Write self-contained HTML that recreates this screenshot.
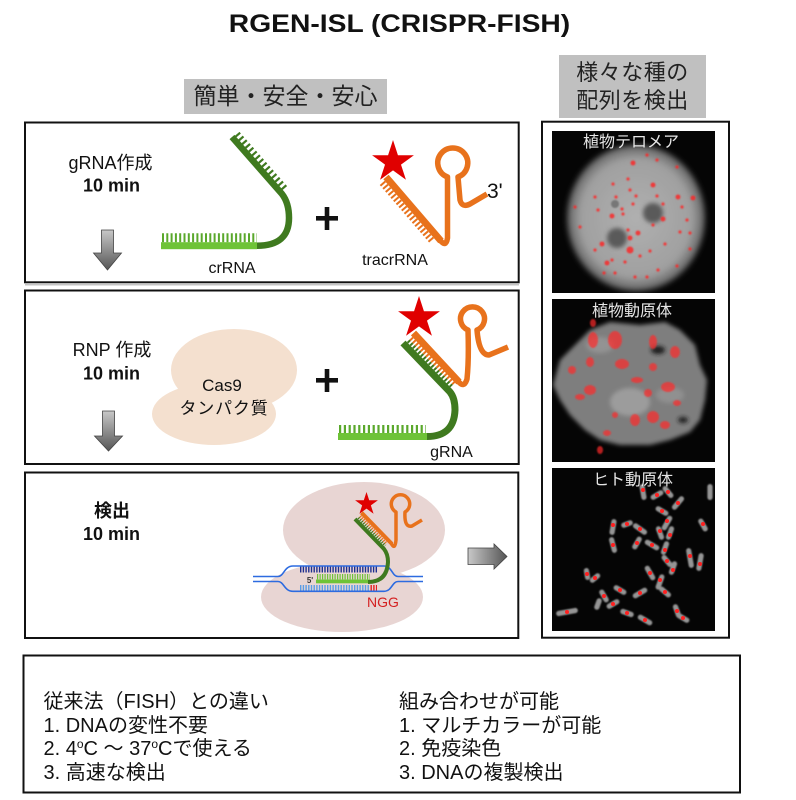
<!DOCTYPE html>
<html><head><meta charset="utf-8">
<style>
html,body{margin:0;padding:0;background:#fff;}
svg{display:block;}
text{font-family:"Liberation Sans","Noto Sans CJK JP",sans-serif;}
</style></head><body>
<svg width="796" height="800" viewBox="0 0 796 800" xmlns="http://www.w3.org/2000/svg">
<defs>
<linearGradient id="gv" x1="0" y1="0" x2="0" y2="1"><stop offset="0" stop-color="#c8c8c8"/><stop offset="1" stop-color="#555"/></linearGradient>
<linearGradient id="gh" x1="0" y1="0" x2="1" y2="0"><stop offset="0" stop-color="#c8c8c8"/><stop offset="1" stop-color="#555"/></linearGradient>
<radialGradient id="disk" cx="0.5" cy="0.5" r="0.5"><stop offset="0" stop-color="#b0b0b0"/><stop offset="0.8" stop-color="#a0a0a0"/><stop offset="1" stop-color="#606060"/></radialGradient>
<filter id="b2" x="-20%" y="-20%" width="140%" height="140%"><feGaussianBlur stdDeviation="2"/></filter>
<filter id="b3" x="-20%" y="-20%" width="140%" height="140%"><feGaussianBlur stdDeviation="3"/></filter>
<filter id="b1" x="-30%" y="-30%" width="160%" height="160%"><feGaussianBlur stdDeviation="0.7"/></filter>
<clipPath id="c1"><rect x="552" y="131" width="163" height="162"/></clipPath>
<clipPath id="c2"><rect x="552" y="299" width="163" height="163"/></clipPath>
<clipPath id="c3"><rect x="552" y="468" width="163" height="163"/></clipPath>
</defs>

<!-- Title -->
<text x="0" y="32" font-size="25" font-weight="bold" text-anchor="middle" fill="#111" transform="translate(399.5,0) scale(1.13,1)">RGEN-ISL (CRISPR-FISH)</text>

<!-- gray labels -->
<rect x="184" y="79" width="203" height="35" fill="#c0c0c0"/>
<text x="285.5" y="104" font-size="23" text-anchor="middle" fill="#222">簡単・安全・安心</text>
<rect x="559" y="55" width="147" height="63" fill="#c0c0c0"/>
<text x="632.5" y="80" font-size="22" text-anchor="middle" fill="#222" letter-spacing="0.5">様々な種の</text>
<text x="632.5" y="108" font-size="22" text-anchor="middle" fill="#222" letter-spacing="0.5">配列を検出</text>

<!-- Panel boxes -->
<rect x="25" y="122.5" width="493.7" height="159.8" fill="none" stroke="#111" stroke-width="2"/>
<line x1="25" y1="284.8" x2="519" y2="284.8" stroke="#c4c4c4" stroke-width="1.5"/>
<rect x="25" y="290.5" width="493.7" height="173.5" fill="none" stroke="#111" stroke-width="2"/>
<rect x="25" y="472.5" width="493.3" height="165.5" fill="none" stroke="#111" stroke-width="2"/>

<!-- Panel 1 text -->
<text x="110.5" y="169" font-size="18" text-anchor="middle" fill="#111">gRNA作成</text>
<text x="111.5" y="191.5" font-size="18" font-weight="bold" text-anchor="middle" fill="#111">10 min</text>
<polygon points="101.5,230 113.5,230 113.5,253 121.5,253 107.5,270 93.5,253 101.5,253" fill="url(#gv)" stroke="#444" stroke-width="0.8"/>

<!-- crRNA -->
<line x1="162" y1="237.8" x2="257" y2="237.8" stroke="#5aa82c" stroke-width="9" stroke-dasharray="2 2.3"/>
<rect x="161" y="242.2" width="96" height="7" fill="#6ec337"/>
<line x1="237.2" y1="133.8" x2="285.2" y2="188.5" stroke="#3f7a1f" stroke-width="6" stroke-dasharray="2.2 2.8"/>
<path d="M232 137 L282 194 Q289 203 289 218 Q289 245.7 257 245.7" fill="none" stroke="#3f7a1f" stroke-width="6.5"/>
<text x="232" y="273" font-size="16" text-anchor="middle" fill="#111">crRNA</text>

<!-- plus 1 -->
<rect x="316" y="216" width="22" height="4.6" fill="#111"/>
<rect x="324.7" y="207" width="4.6" height="23" fill="#111"/>

<!-- tracrRNA -->
<line x1="382.2" y1="182.9" x2="432.6" y2="241.6" stroke="#e8721c" stroke-width="6.5" stroke-dasharray="2 2.1"/>
<line x1="386" y1="177" x2="441" y2="241" stroke="#e8721c" stroke-width="7"/>
<path d="M440 240 Q446 248 447.5 238 L447.5 177 A15 15 0 1 1 458 177 L460 200 Q462 208 470 204 L487 194" fill="none" stroke="#e8721c" stroke-width="5.5" stroke-linejoin="round"/>
<polygon points="0,-1 0.2245,-0.309 0.951,-0.309 0.363,0.118 0.588,0.809 0,0.382 -0.588,0.809 -0.363,0.118 -0.951,-0.309 -0.2245,-0.309" transform="translate(393,162) scale(22)" fill="#e00000"/>
<text x="487" y="198" font-size="21" fill="#111">3'</text>
<text x="395" y="265" font-size="16" text-anchor="middle" fill="#111">tracrRNA</text>

<!-- Panel 2 text -->
<text x="112" y="356" font-size="18" text-anchor="middle" fill="#111">RNP 作成</text>
<text x="111.5" y="379.5" font-size="18" font-weight="bold" text-anchor="middle" fill="#111">10 min</text>
<polygon points="102.5,411 114.5,411 114.5,436 122.5,436 108.5,451 94.5,436 102.5,436" fill="url(#gv)" stroke="#444" stroke-width="0.8"/>

<!-- Cas9 blob -->
<ellipse cx="234" cy="370" rx="63" ry="41" fill="#f4e0cf"/>
<ellipse cx="214" cy="414" rx="62" ry="31" fill="#f4e0cf"/>
<text x="222" y="391" font-size="17" text-anchor="middle" fill="#111">Cas9</text>
<text x="224" y="414" font-size="17" text-anchor="middle" fill="#111" letter-spacing="0.8">タンパク質</text>

<!-- plus 2 -->
<rect x="316" y="378" width="22" height="4.6" fill="#111"/>
<rect x="324.7" y="369" width="4.6" height="23" fill="#111"/>

<!-- gRNA complex -->
<line x1="339" y1="429" x2="426" y2="429" stroke="#5aa82c" stroke-width="8" stroke-dasharray="2.2 2.6"/>
<rect x="338" y="433" width="89" height="7" fill="#6ec337"/>
<line x1="408.2" y1="340.8" x2="452" y2="386.5" stroke="#3f7a1f" stroke-width="3.6" stroke-dasharray="2 1.8"/>
<line x1="410.9" y1="338.2" x2="454.7" y2="383.9" stroke="#e8721c" stroke-width="4" stroke-dasharray="2 1.8"/>
<path d="M403 343 L450 392 Q455 398 455 410 Q454 436.5 427 436.5" fill="none" stroke="#3f7a1f" stroke-width="7"/>
<line x1="413.5" y1="333" x2="459" y2="382" stroke="#e8721c" stroke-width="7"/>
<path d="M458 381 Q464 389 467 379 Q469 360 468 330 A12 12 0 1 1 477 330 Q479 355 489 355 L508 347" fill="none" stroke="#e8721c" stroke-width="5.5" stroke-linejoin="round"/>
<polygon points="0,-1 0.2245,-0.309 0.951,-0.309 0.363,0.118 0.588,0.809 0,0.382 -0.588,0.809 -0.363,0.118 -0.951,-0.309 -0.2245,-0.309" transform="translate(419,318) scale(22)" fill="#e00000"/>
<text x="451.5" y="457" font-size="16" text-anchor="middle" fill="#111">gRNA</text>

<!-- Panel 3 text -->
<text x="112" y="517" font-size="18" font-weight="bold" text-anchor="middle" fill="#111">検出</text>
<text x="111.5" y="540" font-size="18" font-weight="bold" text-anchor="middle" fill="#111">10 min</text>

<!-- pink blob -->
<ellipse cx="364" cy="530" rx="81" ry="48" fill="#e8d5d3"/>
<ellipse cx="342" cy="597" rx="81" ry="35" fill="#e8d5d3"/>

<!-- DNA -->
<line x1="300" y1="569.3" x2="377" y2="569.3" stroke="#1f2f8f" stroke-width="6.5" stroke-dasharray="1.4 1.3"/>
<line x1="300" y1="588.3" x2="370" y2="588.3" stroke="#5a9de6" stroke-width="6.5" stroke-dasharray="1.4 1.3"/>
<line x1="370.5" y1="588.3" x2="377" y2="588.3" stroke="#e52020" stroke-width="6.5" stroke-dasharray="1.4 1.3"/>
<path d="M253 576.5 L278 576.5 C284 576.5 284 566 293 566 L384 566 C392 566 392 576.5 398 576.5 L423 576.5" fill="none" stroke="#2d6be0" stroke-width="1.6"/>
<path d="M253 581.5 L278 581.5 C284 581.5 284 591.3 293 591.3 L384 591.3 C392 591.3 392 581.5 398 581.5 L423 581.5" fill="none" stroke="#2d6be0" stroke-width="1.6"/>
<line x1="317" y1="576.7" x2="370" y2="576.7" stroke="#6ec337" stroke-width="5.3" stroke-dasharray="1.2 1.3"/>
<rect x="316" y="579.5" width="54" height="3.8" fill="#6ec337"/>
<text x="310" y="583" font-size="8" font-weight="bold" text-anchor="middle" fill="#333">5'</text>
<line x1="358.4" y1="517.8" x2="385.3" y2="545.6" stroke="#3f7a1f" stroke-width="2.5" stroke-dasharray="1.2 1.2"/>
<line x1="360.2" y1="516.1" x2="387" y2="543.8" stroke="#e8721c" stroke-width="2.5" stroke-dasharray="1.2 1.2"/>
<path d="M355 519 L384 549 Q388 554 388 562 Q387 582 368 582" fill="none" stroke="#3f7a1f" stroke-width="4"/>
<line x1="361.5" y1="512.7" x2="392" y2="544" stroke="#e8721c" stroke-width="4"/>
<path d="M391 543 Q395 551 396 540 L396 512 A9.2 9.2 0 1 1 405 512 Q404 528 412 526 L422 520" fill="none" stroke="#e8721c" stroke-width="3.5" stroke-linejoin="round"/>
<polygon points="0,-1 0.2245,-0.309 0.951,-0.309 0.363,0.118 0.588,0.809 0,0.382 -0.588,0.809 -0.363,0.118 -0.951,-0.309 -0.2245,-0.309" transform="translate(366.5,504) scale(12)" fill="#e00000"/>
<text x="383" y="607" font-size="14" text-anchor="middle" fill="#d42020">NGG</text>

<!-- right arrow -->
<polygon points="468,548 494,548 494,544 507,556.5 494,569 494,564.5 468,564.5" fill="url(#gh)" stroke="#444" stroke-width="0.8"/>

<!-- Right column box -->
<rect x="542" y="121.7" width="187" height="516" fill="none" stroke="#111" stroke-width="2"/>

<!-- Image 1 -->
<g clip-path="url(#c1)">
<rect x="552" y="131" width="163" height="162" fill="#050505"/>
<ellipse cx="636" cy="218" rx="69" ry="73" fill="url(#disk)" filter="url(#b3)"/>
<circle cx="617" cy="238" r="10" fill="#5a5a5a" filter="url(#b2)"/>
<circle cx="653" cy="213" r="10" fill="#5a5a5a" filter="url(#b2)"/>
<circle cx="615" cy="204" r="4" fill="#777" filter="url(#b1)"/>
<g fill="#ff2020" fill-opacity="0.8" filter="url(#b1)">
<circle cx="633" cy="163" r="2.5"/><circle cx="647" cy="155" r="1.6"/><circle cx="657" cy="160" r="1.6"/><circle cx="677" cy="167" r="1.6"/>
<circle cx="628" cy="179" r="1.6"/><circle cx="613" cy="184" r="1.6"/><circle cx="653" cy="185" r="2.5"/><circle cx="630" cy="190" r="1.6"/>
<circle cx="595" cy="197" r="1.6"/><circle cx="616" cy="197" r="1.6"/><circle cx="636" cy="196" r="1.6"/><circle cx="657" cy="196" r="1.6"/>
<circle cx="678" cy="197" r="2.5"/><circle cx="693" cy="198" r="2.5"/><circle cx="575" cy="207" r="1.6"/><circle cx="598" cy="210" r="1.6"/>
<circle cx="622" cy="209" r="1.6"/><circle cx="633" cy="204" r="1.6"/><circle cx="663" cy="204" r="1.6"/><circle cx="682" cy="207" r="1.6"/>
<circle cx="612" cy="216" r="2.5"/><circle cx="623" cy="214" r="1.6"/><circle cx="663" cy="219" r="2.5"/><circle cx="687" cy="220" r="1.6"/>
<circle cx="653" cy="225" r="1.6"/><circle cx="580" cy="227" r="1.6"/><circle cx="628" cy="230" r="1.6"/><circle cx="638" cy="233" r="2.5"/>
<circle cx="630" cy="238" r="2.5"/><circle cx="680" cy="232" r="1.6"/><circle cx="690" cy="233" r="1.6"/><circle cx="602" cy="244" r="2.5"/>
<circle cx="630" cy="250" r="3.5"/><circle cx="650" cy="251" r="1.6"/><circle cx="665" cy="244" r="1.6"/><circle cx="690" cy="249" r="1.6"/>
<circle cx="595" cy="250" r="1.6"/><circle cx="607" cy="263" r="2.5"/><circle cx="612" cy="260" r="1.6"/><circle cx="625" cy="262" r="1.6"/>
<circle cx="640" cy="256" r="1.6"/><circle cx="658" cy="270" r="1.6"/><circle cx="635" cy="277" r="1.6"/><circle cx="647" cy="277" r="1.6"/>
<circle cx="615" cy="273" r="1.6"/><circle cx="677" cy="266" r="1.6"/><circle cx="604" cy="273" r="1.6"/>
</g>
<text x="631" y="147" font-size="16" text-anchor="middle" fill="#e6e6e6">植物テロメア</text>
</g>

<!-- Image 2 -->
<g clip-path="url(#c2)">
<rect x="552" y="299" width="163" height="163" fill="#050505"/>
<polygon points="553,385 560,360 575,345 590,330 610,322 640,325 665,322 680,330 695,345 700,365 707,380 705,400 700,420 690,432 670,440 650,445 620,445 600,440 585,430 570,415 560,400" fill="#7e7e7e" filter="url(#b2)"/>
<g fill="#1a1a1a" filter="url(#b2)">
<ellipse cx="658" cy="350" rx="7" ry="4"/>
<ellipse cx="683" cy="420" rx="5" ry="3"/>
</g>
<ellipse cx="630" cy="402" rx="20" ry="14" fill="#9c9c9c" filter="url(#b2)"/>
<ellipse cx="600" cy="345" rx="14" ry="8" fill="#939393" filter="url(#b2)"/>
<ellipse cx="670" cy="395" rx="14" ry="8" fill="#909090" filter="url(#b2)"/>
<g fill="#ff2a2a" fill-opacity="0.7" filter="url(#b1)">
<ellipse cx="593" cy="340" rx="5" ry="8"/><ellipse cx="615" cy="340" rx="7" ry="9"/><ellipse cx="653" cy="342" rx="4" ry="7"/>
<ellipse cx="675" cy="352" rx="5" ry="6"/><ellipse cx="590" cy="362" rx="4" ry="5"/><ellipse cx="622" cy="364" rx="7" ry="5"/>
<ellipse cx="653" cy="367" rx="4" ry="4"/><ellipse cx="572" cy="370" rx="4" ry="4"/><ellipse cx="637" cy="380" rx="6" ry="3"/>
<ellipse cx="668" cy="387" rx="7" ry="5"/><ellipse cx="590" cy="390" rx="6" ry="5"/><ellipse cx="580" cy="397" rx="5" ry="3"/>
<ellipse cx="648" cy="393" rx="4" ry="4"/><ellipse cx="677" cy="403" rx="4" ry="3"/><ellipse cx="653" cy="417" rx="6" ry="6"/>
<ellipse cx="635" cy="420" rx="5" ry="6"/><ellipse cx="665" cy="425" rx="5" ry="4"/><ellipse cx="607" cy="433" rx="4" ry="3"/>
<ellipse cx="593" cy="323" rx="3" ry="4"/><ellipse cx="600" cy="450" rx="3" ry="4"/><ellipse cx="615" cy="415" rx="3" ry="3"/>
</g>
<text x="632" y="316" font-size="16" text-anchor="middle" fill="#e6e6e6">植物動原体</text>
</g>

<!-- Image 3 -->
<g clip-path="url(#c3)">
<rect x="552" y="468" width="163" height="163" fill="#050505"/>
<g fill="#959595" filter="url(#b1)">
<rect x="-2.6" y="-8" width="5.2" height="16" rx="2.6" transform="translate(643,492) rotate(-10)"/>
<rect x="-2.6" y="-7" width="5.2" height="14" rx="2.6" transform="translate(657,495) rotate(60)"/>
<rect x="-2.6" y="-7" width="5.2" height="14" rx="2.6" transform="translate(668,492) rotate(-40)"/>
<rect x="-2.6" y="-8" width="5.2" height="16" rx="2.6" transform="translate(678,503) rotate(40)"/>
<rect x="-2.6" y="-7" width="5.2" height="14" rx="2.6" transform="translate(662,511) rotate(-60)"/>
<rect x="-2.6" y="-8" width="5.2" height="16" rx="2.6" transform="translate(667,523) rotate(30)"/>
<rect x="-2.6" y="-8" width="5.2" height="16" rx="2.6" transform="translate(613,527) rotate(10)"/>
<rect x="-2.6" y="-6" width="5.2" height="12" rx="2.6" transform="translate(627,524) rotate(70)"/>
<rect x="-2.6" y="-8" width="5.2" height="16" rx="2.6" transform="translate(640,529) rotate(-55)"/>
<rect x="-2.6" y="-7" width="5.2" height="14" rx="2.6" transform="translate(660,533) rotate(-20)"/>
<rect x="-2.6" y="-7" width="5.2" height="14" rx="2.6" transform="translate(670,533) rotate(20)"/>
<rect x="-2.6" y="-7" width="5.2" height="14" rx="2.6" transform="translate(703,525) rotate(-30)"/>
<rect x="-2.6" y="-8" width="5.2" height="16" rx="2.6" transform="translate(710,492) rotate(0)"/>
<rect x="-2.6" y="-8" width="5.2" height="16" rx="2.6" transform="translate(613,545) rotate(-15)"/>
<rect x="-2.6" y="-7" width="5.2" height="14" rx="2.6" transform="translate(637,543) rotate(30)"/>
<rect x="-2.6" y="-8" width="5.2" height="16" rx="2.6" transform="translate(652,545) rotate(-60)"/>
<rect x="-2.6" y="-7" width="5.2" height="14" rx="2.6" transform="translate(665,548) rotate(20)"/>
<rect x="-2.6" y="-10" width="5.2" height="20" rx="2.6" transform="translate(690,558) rotate(-10)"/>
<rect x="-2.6" y="-9" width="5.2" height="18" rx="2.6" transform="translate(700,562) rotate(10)"/>
<rect x="-2.6" y="-7" width="5.2" height="14" rx="2.6" transform="translate(667,561) rotate(-40)"/>
<rect x="-2.6" y="-7" width="5.2" height="14" rx="2.6" transform="translate(673,568) rotate(20)"/>
<rect x="-2.6" y="-6" width="5.2" height="12" rx="2.6" transform="translate(587,574) rotate(-10)"/>
<rect x="-2.6" y="-6" width="5.2" height="12" rx="2.6" transform="translate(595,578) rotate(50)"/>
<rect x="-2.6" y="-8" width="5.2" height="16" rx="2.6" transform="translate(650,573) rotate(-30)"/>
<rect x="-2.6" y="-8" width="5.2" height="16" rx="2.6" transform="translate(660,582) rotate(20)"/>
<rect x="-2.6" y="-7" width="5.2" height="14" rx="2.6" transform="translate(665,592) rotate(-50)"/>
<rect x="-2.6" y="-8" width="5.2" height="16" rx="2.6" transform="translate(640,593) rotate(60)"/>
<rect x="-2.6" y="-7" width="5.2" height="14" rx="2.6" transform="translate(620,590) rotate(-60)"/>
<rect x="-2.6" y="-7" width="5.2" height="14" rx="2.6" transform="translate(604,596) rotate(-30)"/>
<rect x="-2.6" y="-7" width="5.2" height="14" rx="2.6" transform="translate(613,604) rotate(60)"/>
<rect x="-2.6" y="-6" width="5.2" height="12" rx="2.6" transform="translate(598,604) rotate(20)"/>
<rect x="-2.6" y="-11" width="5.2" height="22" rx="2.6" transform="translate(567,612) rotate(80)"/>
<rect x="-2.6" y="-7" width="5.2" height="14" rx="2.6" transform="translate(627,613) rotate(-70)"/>
<rect x="-2.6" y="-8" width="5.2" height="16" rx="2.6" transform="translate(645,620) rotate(-60)"/>
<rect x="-2.6" y="-7" width="5.2" height="14" rx="2.6" transform="translate(677,611) rotate(-20)"/>
<rect x="-2.6" y="-7" width="5.2" height="14" rx="2.6" transform="translate(683,618) rotate(-60)"/>
</g>
<g fill="#ff2020">
<circle cx="643" cy="490" r="2"/><circle cx="657" cy="495" r="2"/><circle cx="668" cy="492" r="2"/><circle cx="678" cy="503" r="2"/>
<circle cx="662" cy="511" r="2"/><circle cx="667" cy="521" r="2"/><circle cx="613" cy="525" r="2"/><circle cx="627" cy="524" r="2"/>
<circle cx="640" cy="529" r="2"/><circle cx="660" cy="531" r="2"/><circle cx="670" cy="535" r="2"/><circle cx="703" cy="524" r="2"/>
<circle cx="613" cy="545" r="2"/><circle cx="637" cy="543" r="2"/><circle cx="652" cy="545" r="2"/><circle cx="665" cy="550" r="2"/>
<circle cx="690" cy="556" r="2"/><circle cx="700" cy="564" r="2"/><circle cx="667" cy="561" r="2"/><circle cx="673" cy="570" r="2"/>
<circle cx="587" cy="574" r="2"/><circle cx="595" cy="578" r="2"/><circle cx="650" cy="573" r="2"/><circle cx="660" cy="580" r="2"/>
<circle cx="665" cy="592" r="2"/><circle cx="640" cy="593" r="2"/><circle cx="620" cy="590" r="2"/><circle cx="604" cy="596" r="2"/>
<circle cx="613" cy="604" r="2"/><circle cx="567" cy="612" r="2"/><circle cx="627" cy="613" r="2"/><circle cx="645" cy="620" r="2"/>
<circle cx="677" cy="611" r="2"/><circle cx="683" cy="618" r="2"/>
</g>
<text x="633" y="485" font-size="16" text-anchor="middle" fill="#e6e6e6">ヒト動原体</text>
</g>

<!-- Bottom box -->
<rect x="23.5" y="655.5" width="716.5" height="137" fill="none" stroke="#111" stroke-width="2"/>
<g font-size="20" fill="#111">
<text x="43.5" y="708">従来法（FISH）との違い</text>
<text x="43.5" y="732">1. DNAの変性不要</text>
<text x="43.5" y="755">2. 4<tspan font-size="12" dy="-7">o</tspan><tspan dy="7">C ～ 37</tspan><tspan font-size="12" dy="-7">o</tspan><tspan dy="7">Cで使える</tspan></text>
<text x="43.5" y="779">3. 高速な検出</text>
<text x="399" y="708">組み合わせが可能</text>
<text x="399" y="732">1. マルチカラーが可能</text>
<text x="399" y="755">2. 免疫染色</text>
<text x="399" y="779">3. DNAの複製検出</text>
</g>
</svg>
</body></html>
